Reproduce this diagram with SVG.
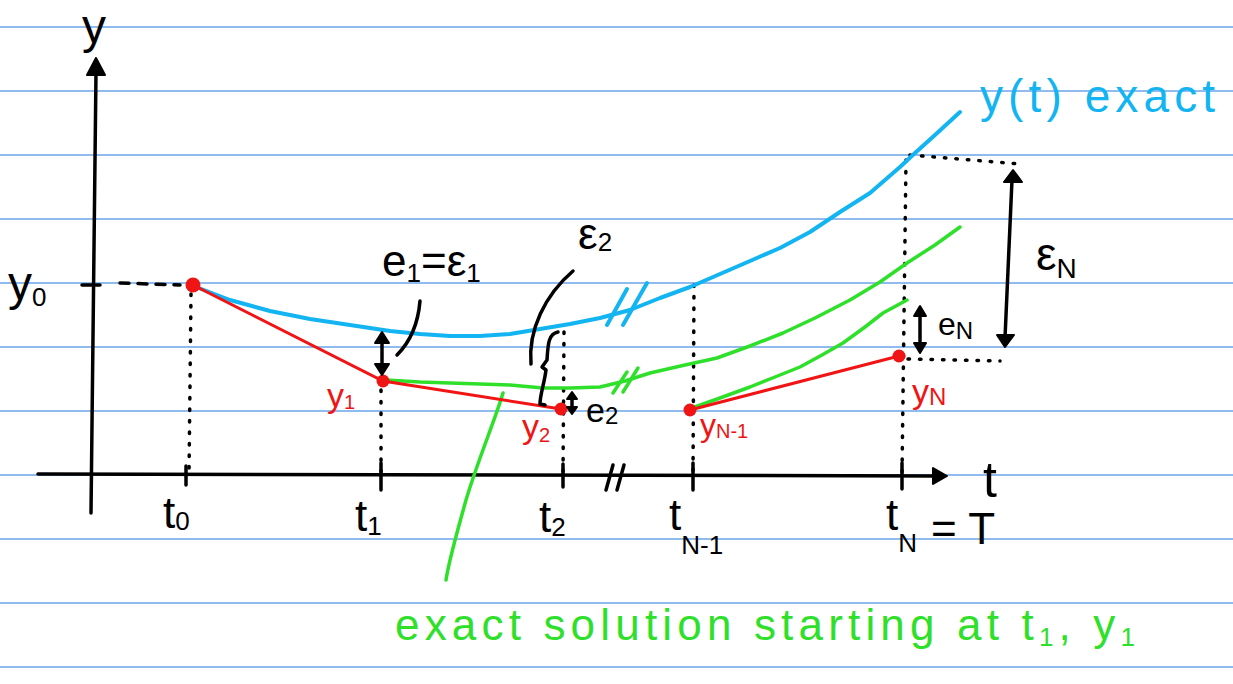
<svg xmlns="http://www.w3.org/2000/svg" width="1233" height="684" viewBox="0 0 1233 684">
<style>
.rule{stroke:#6aa5e8;stroke-width:1.5}
.ink{fill:none;stroke:#000;stroke-width:3.5;stroke-linecap:round;stroke-linejoin:round}
.dot{fill:none;stroke:#000;stroke-width:3.5;stroke-linecap:round;stroke-dasharray:1.5 10}
.blue{fill:none;stroke:#12b4f2;stroke-width:4;stroke-linecap:round;stroke-linejoin:round}
.green{fill:none;stroke:#2fe02a;stroke-width:3.5;stroke-linecap:round;stroke-linejoin:round}
.red{fill:none;stroke:#f01414;stroke-width:3;stroke-linecap:round}
.pt{fill:#f01414}
.head{fill:#000;stroke:#000;stroke-width:2;stroke-linejoin:round}
text{font-family:"Liberation Sans","DejaVu Sans",sans-serif}
.lb{fill:#000}
.lr{fill:#f01414}
</style>
<g id="paper">
<line class="rule" x1="0" y1="27" x2="1233" y2="27"/>
<line class="rule" x1="0" y1="91" x2="1233" y2="91"/>
<line class="rule" x1="0" y1="155" x2="1233" y2="155"/>
<line class="rule" x1="0" y1="219" x2="1233" y2="219"/>
<line class="rule" x1="0" y1="283" x2="1233" y2="283"/>
<line class="rule" x1="0" y1="347" x2="1233" y2="347"/>
<line class="rule" x1="0" y1="411" x2="1233" y2="411"/>
<line class="rule" x1="0" y1="475" x2="1233" y2="475"/>
<line class="rule" x1="0" y1="539" x2="1233" y2="539"/>
<line class="rule" x1="0" y1="603" x2="1233" y2="603"/>
<line class="rule" x1="0" y1="667" x2="1233" y2="667"/>
</g>
<g id="axes">
<path class="ink" d="M91,513 L96,72"/>
<polygon class="head" points="96,58 87,75 105,75"/>
<path class="ink" d="M38,474 L935,476"/>
<polygon class="head" points="947,476 933,468 933,484"/>
<path class="ink" d="M82,285 L100,285"/>
<path class="ink" d="M186,466 L186,485 M381,463 L381,490 M563,464 L563,487 M693,463 L693,490 M902,463 L902,489"/>
<path class="ink" d="M606,490 L613,465 M617,490 L624,465"/>
<text class="lb" x="82" y="43" font-size="48">y</text>
<text class="lb" x="983" y="497" font-size="50">t</text>
</g>
<g id="guides">
<path class="ink" d="M120,283 L180,285" stroke-dasharray="9 9"/>
<path class="dot" d="M191,294 L189,475"/>
<path class="dot" d="M381,390 L381,475"/>
<path class="dot" d="M564,332 L563,475"/>
<path class="dot" d="M694,285 L693,475"/>
<path class="dot" d="M906,160 L902,475"/>
<path class="dot" d="M910,155 L1020,164"/>
<path class="dot" d="M908,359 L1000,361"/>
</g>
<g id="exact-curve">
<polyline class="blue" points="196,287 230,300 270,311 310,319 350,325 390,331 420,334 450,336 480,336 510,334 540,329 570,324 600,318 630,310 660,298 690,287 720,274 750,261 780,248 810,232 840,212 870,193 900,167 915,153 935,135 960,112"/>
<path class="blue" d="M607,325 L627,289 M623,325 L647,283"/>
<text x="980" y="112" font-size="46" fill="#12b4f2" textLength="235" lengthAdjust="spacing">y(t) exact</text>
</g>
<g id="local-curves">
<polyline class="green" points="386,380 420,382 450,383 480,384 510,385 543,388 570,388 600,387 625,381 650,373 685,365 717,358 750,346 783,333 815,318 850,300 880,282 907,263 935,245 960,227"/>
<polyline class="green" points="692,408 720,398 750,387 775,377 800,367 822,355 843,343 865,327 883,313 907,300"/>
<path class="green" d="M613,393 L627,372 M623,392 L638,368"/>
<path class="green" d="M503,393 C495,420 478,460 466,500 C455,540 449,560 446,580"/>
<text x="395" y="640" font-size="44" fill="#2fe02a" textLength="740" lengthAdjust="spacing">exact solution starting at  t<tspan font-size="26" dy="6">1</tspan><tspan dy="-6">, y</tspan><tspan font-size="26" dy="6">1</tspan></text>
</g>
<g id="euler-steps">
<path class="red" d="M193,285 L383,381 L561,409"/>
<path class="red" d="M690,410 L899,356"/>
<circle class="pt" cx="193" cy="285" r="7.5"/>
<circle class="pt" cx="383" cy="381" r="6.5"/>
<circle class="pt" cx="561" cy="409" r="6.5"/>
<circle class="pt" cx="690" cy="410" r="6.5"/>
<circle class="pt" cx="899" cy="356" r="6.5"/>
</g>
<g id="errors">
<path class="ink" d="M382,340 L382,366"/>
<polygon class="head" points="382,332 375,343 389,343"/>
<polygon class="head" points="382,375 375,364 389,364"/>
<path class="ink" d="M420,301 C418,325 410,342 397,355"/>
<path class="ink" d="M573,271 C545,295 528,330 531,364"/>
<path class="ink" d="M558,332 C548,334 548,345 547,360 L542,367 L546,370 C544,385 540,395 540,404 L545,405"/>
<path class="ink" d="M572,397 L572,409"/>
<polygon class="head" points="572,392 567,399 577,399"/>
<polygon class="head" points="572,414 567,407 577,407"/>
<path class="ink" d="M920,313 L920,346"/>
<polygon class="head" points="920,306 914,316 926,316"/>
<polygon class="head" points="920,353 914,343 926,343"/>
<path class="ink" d="M1012,180 L1005,338"/>
<polygon class="head" points="1013,170 1004,182 1022,182"/>
<polygon class="head" points="1005,347 997,335 1014,335"/>
</g>
<g id="labels">
<text class="lb" x="8" y="300" font-size="48">y<tspan font-size="26" dy="6">0</tspan></text>
<text class="lb" x="382" y="276" font-size="44">e<tspan font-size="26" dy="6">1</tspan><tspan dy="-6">=ε</tspan><tspan font-size="26" dy="6">1</tspan></text>
<text class="lb" x="578" y="249" font-size="44">ε<tspan font-size="26" dy="2">2</tspan></text>
<text class="lb" x="586" y="422" font-size="34">e<tspan font-size="24" dy="2">2</tspan></text>
<text class="lb" x="938" y="335" font-size="32">e<tspan font-size="24" dy="4">N</tspan></text>
<text class="lb" x="1036" y="270" font-size="46">ε<tspan font-size="28" dy="8">N</tspan></text>
<text class="lr" x="327" y="407" font-size="34">y<tspan font-size="20" dy="2">1</tspan></text>
<text class="lr" x="522" y="438" font-size="34">y<tspan font-size="20" dy="4">2</tspan></text>
<text class="lr" x="700" y="436" font-size="32">y<tspan font-size="20" dy="2">N-1</tspan></text>
<text class="lr" x="912" y="403" font-size="34">y<tspan font-size="24" dy="2">N</tspan></text>
<text class="lb" x="163" y="528" font-size="44">t<tspan font-size="26" dy="2">0</tspan></text>
<text class="lb" x="355" y="531" font-size="44">t<tspan font-size="26" dy="4">1</tspan></text>
<text class="lb" x="539" y="532" font-size="44">t<tspan font-size="26" dy="4">2</tspan></text>
<text class="lb" x="669" y="530" font-size="44">t<tspan font-size="26" dy="24">N-1</tspan></text>
<text class="lb" x="886" y="530" font-size="44">t<tspan font-size="26" dy="22">N</tspan><tspan dx="14" dy="-8">= T</tspan></text>
</g>
</svg>
